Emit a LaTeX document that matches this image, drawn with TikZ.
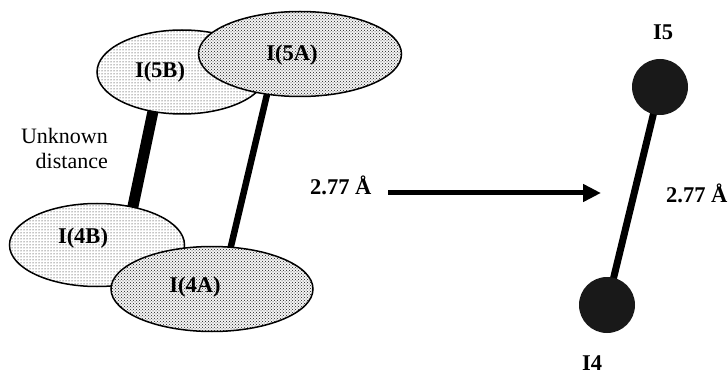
\documentclass[tikz,border=0pt]{standalone}
\usepackage{fontspec}
\setmainfont{Liberation Serif}
\usetikzlibrary{shapes.geometric,patterns,arrows.meta,backgrounds}
\begin{document}
\begin{tikzpicture}[x=1pt,y=-1pt,
  ellB/.style={ellipse,draw=black,line width=1.5pt,preaction={fill=white},pattern=dots,pattern color=black,inner sep=0pt},
  ellA/.style={ellipse,draw=black,line width=1.5pt,preaction={fill=black!4},pattern=crosshatch dots,pattern color=black!90,inner sep=0pt},
  lbl/.style={font=\fontsize{22.5}{26}\selectfont\bfseries,inner sep=0pt},
  txt/.style={font=\fontsize{22}{25}\selectfont,inner sep=0pt},
  bond/.style={line width=#1,line cap=butt},
  atom/.style={circle,fill=black!90,minimum size=56pt,inner sep=0pt}]
\useasboundingbox (0,0) rectangle (728,374);
% ellipses
\node[ellB,minimum width=170pt,minimum height=84pt] (b5) at (182,72) {};
\node[ellA,minimum width=203pt,minimum height=85pt] (a5) at (300,54) {};
\node[ellB,minimum width=175pt,minimum height=83pt] (b4) at (97,245) {};
\node[ellA,minimum width=202pt,minimum height=85pt] (a4) at (212,289) {};
% bonds behind
\begin{pgfonlayer}{background}
\draw[bond=11pt,shorten <=-4pt,shorten >=-4pt] (b5.-126) -- (b4.47);
\draw[bond=6.5pt,shorten <=-4pt,shorten >=-4pt] (a5.-129) -- (a4.66);
\end{pgfonlayer}
% labels in ellipses
\node[lbl] (tb5) at (160,72) {I(5B)};
\node[lbl] (ta5) at (292,55) {I(5A)};
\node[lbl] (tb4) at (83,238) {I(4B)};
\node[lbl] (ta4) at (195,287) {I(4A)};
% texts
\node[txt,align=right,anchor=north east] (unk) at (108,128) {Unknown\\distance};
\node[lbl,anchor=west] (d1) at (310,185) {2.77 Å};
% arrow
\coordinate (arrS) at (388,193);
\coordinate (arrE) at (601,193);
\draw[line width=5pt,-{Triangle[length=18pt,width=17pt]}] (arrS) -- (arrE);
% right molecule
\node[atom] (i5) at (660,87) {};
\node[atom] (i4) at (607,305) {};
\begin{pgfonlayer}{background}
\draw[bond=7pt] (i5.center) -- (i4.center);
\end{pgfonlayer}
\node[lbl] (l5) at (663,32) {I5};
\node[lbl] (l4) at (592,363) {I4};
\node[lbl,anchor=west] (d2) at (666,193) {2.77 Å};
\end{tikzpicture}
\end{document}
